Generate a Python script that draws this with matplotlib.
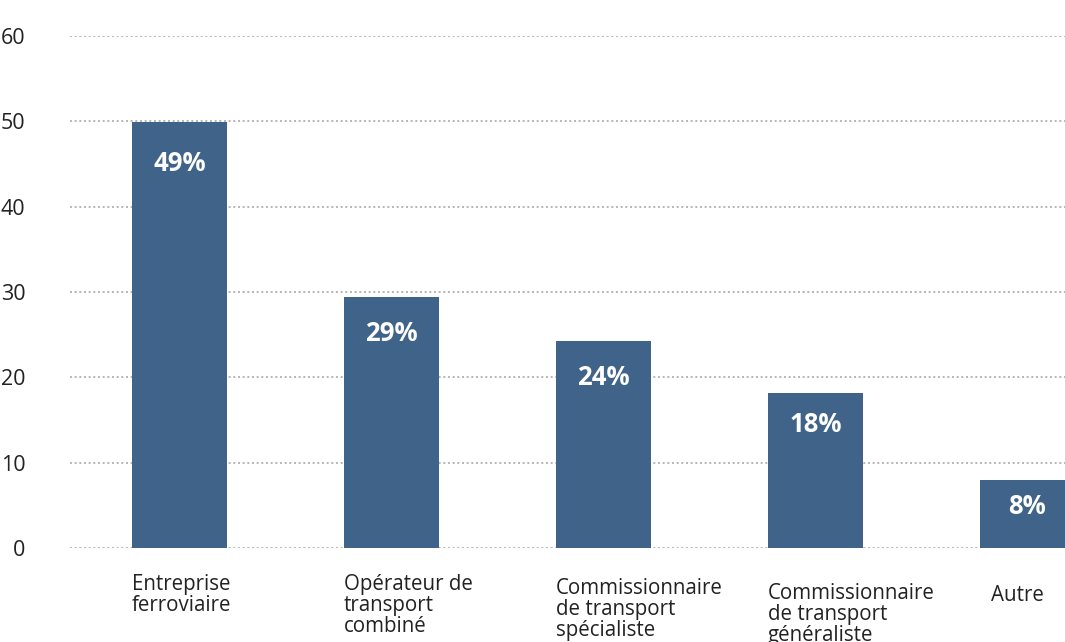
import matplotlib
matplotlib.use("Agg")
import matplotlib.pyplot as plt
from matplotlib import transforms

categories = ["Entreprise\nferroviaire",
              "Opérateur de\ntransport\ncombiné",
              "Commissionnaire\nde transport\nspécialiste",
              "Commissionnaire\nde transport\ngénéraliste",
              "Autre"]
values = [49.9, 29.4, 24.3, 18.2, 8.0]
labels = ["49%", "29%", "24%", "18%", "8%"]
yticks = [0, 10, 20, 30, 40, 50, 60]

plt.rcParams['font.family'] = ['Open Sans', 'DejaVu Sans']

BAR = "#3f6389"
fig = plt.figure(figsize=(10.65, 6.42), dpi=100)
ax = fig.add_axes([70/1065, 94/642, 1 - 70/1065, 512/642])

x = list(range(len(values)))
w = 0.45
ax.bar(x, values, width=w, color=BAR, zorder=3)
ax.set_xlim(-0.516, 4.177)
ax.set_ylim(0, 60)
ax.set_yticks(yticks)
ax.set_xticks([])
ax.yaxis.grid(True, linestyle=(0, (1, 1.4)), color="#b5b5b5", linewidth=1.4, zorder=0)
for s in ax.spines.values():
    s.set_visible(False)
ax.tick_params(axis='y', length=0, pad=32, labelsize=15.5, labelcolor="#222222")

# value labels inside bars
lab_dy = [41, 36, 37, 32, 27]
for xi, v, lab, d in zip(x, values, labels, lab_dy):
    ax.annotate(lab, (xi, v), xytext=(0, -d * 0.72), textcoords="offset points",
                ha="center", va="center", color="white", fontsize=18.5,
                fontweight="bold")

# category labels under bars, left aligned at bar edge
dx_px = [0, 0, 0, 0, 11]
dy_px = [26, 26, 30, 35, 37]
for xi, cat, ddx, ddy in zip(x, categories, dx_px, dy_px):
    tr = transforms.offset_copy(ax.get_xaxis_transform(), fig=fig,
                                x=ddx * 0.72, y=-ddy * 0.72, units="points")
    ax.text(xi - w / 2, 0, cat, transform=tr, ha="left", va="top",
            fontsize=14.8, color="#222222", linespacing=1.0)

fig.savefig("out.png", dpi=100)
